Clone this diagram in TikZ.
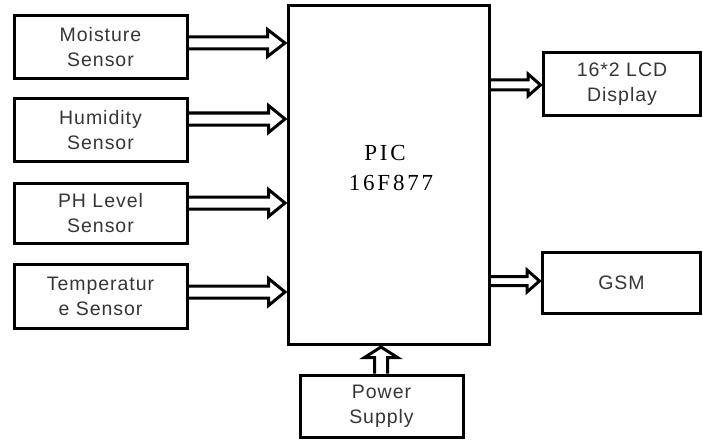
\documentclass[tikz,border=0pt]{standalone}
\usepackage{fontspec}
\setmainfont{Liberation Serif}
\newfontfamily\arialish[LetterSpace=5]{Liberation Sans}
\newfontfamily\timesish[LetterSpace=12]{Liberation Serif}
\usetikzlibrary{calc}
\definecolor{txtgray}{HTML}{363636}
\tikzset{
  blk/.style={draw=black, line width=3pt, fill=white, inner sep=0pt, align=center,
     font=\arialish\fontsize{19.5}{25}\selectfont, text=txtgray},
  fat/.style={draw=black, line width=3pt, line join=miter},
}
% horizontal hollow arrow: #1 from, #2 tip, #3 shaft half width, #4 head half width, #5 head length
\newcommand\harrow[5]{%
  \draw[fat] let \p1=(#1), \p2=(#2) in
    (\x1,\y2+#3) -- (\x2-#5,\y2+#3) -- (\x2-#5,\y2+#4) -- (\x2-1.5,\y2)
    -- (\x2-#5,\y2-#4) -- (\x2-#5,\y2-#3) -- (\x1,\y2-#3);}
\begin{document}
\begin{tikzpicture}[x=1pt,y=-1pt]
\useasboundingbox (0,0) rectangle (703,441);
\node[blk, minimum width=173pt, minimum height=63pt] (moist) at (100.5,47) {Moisture\\Sensor};
\node[blk, minimum width=173pt, minimum height=62pt] (hum) at (100.5,130) {Humidity\\Sensor};
\node[blk, minimum width=173pt, minimum height=60pt] (ph) at (100.5,213.5) {PH Level\\Sensor};
\node[blk, minimum width=173pt, minimum height=64pt] (temp) at (100.5,296) {Temperatur\\e Sensor};
\node[blk, minimum width=201pt, minimum height=338pt] (pic) at (388.5,175) {};
\node[font=\timesish\fontsize{23}{24}\selectfont] (pict) at (385,153) {PIC};
\node[font=\timesish\fontsize{23}{24}\selectfont] (picn) at (391,183) {16F877};
\node[blk, minimum width=157pt, minimum height=62pt] (lcd) at (622,84) {16*2 LCD\\Display};
\node[blk, minimum width=158pt, minimum height=61pt] (gsm) at (621.5,282.5) {GSM};
\node[blk, minimum width=163pt, minimum height=62pt] (pow) at (381.5,406) {Power\\Supply};
\harrow{moist.east |- 0,43}{pic.west |- 0,43}{6}{13.5}{19}
\harrow{hum.east |- 0,119}{pic.west |- 0,119}{6}{13.5}{18}
\harrow{ph.east |- 0,203}{pic.west |- 0,203}{6}{13.5}{18}
\harrow{temp.east |- 0,292}{pic.west |- 0,292}{6}{13.5}{18}
\harrow{pic.east |- 0,85}{lcd.west |- 0,85}{5}{11}{14}
\harrow{pic.east |- 0,281}{gsm.west |- 0,281}{4.5}{11}{14}
\draw[fat] let \p1=(pow.north -| 381,0), \p2=(pic.south -| 381,0) in
  (\x2-6.5,\y1) -- (\x2-6.5,\y2-12) -- (\x2-16.5,\y2-12) -- (\x2,\y2-1.5)
  -- (\x2+16.5,\y2-12) -- (\x2+6.5,\y2-12) -- (\x2+6.5,\y1);
\end{tikzpicture}
\end{document}
